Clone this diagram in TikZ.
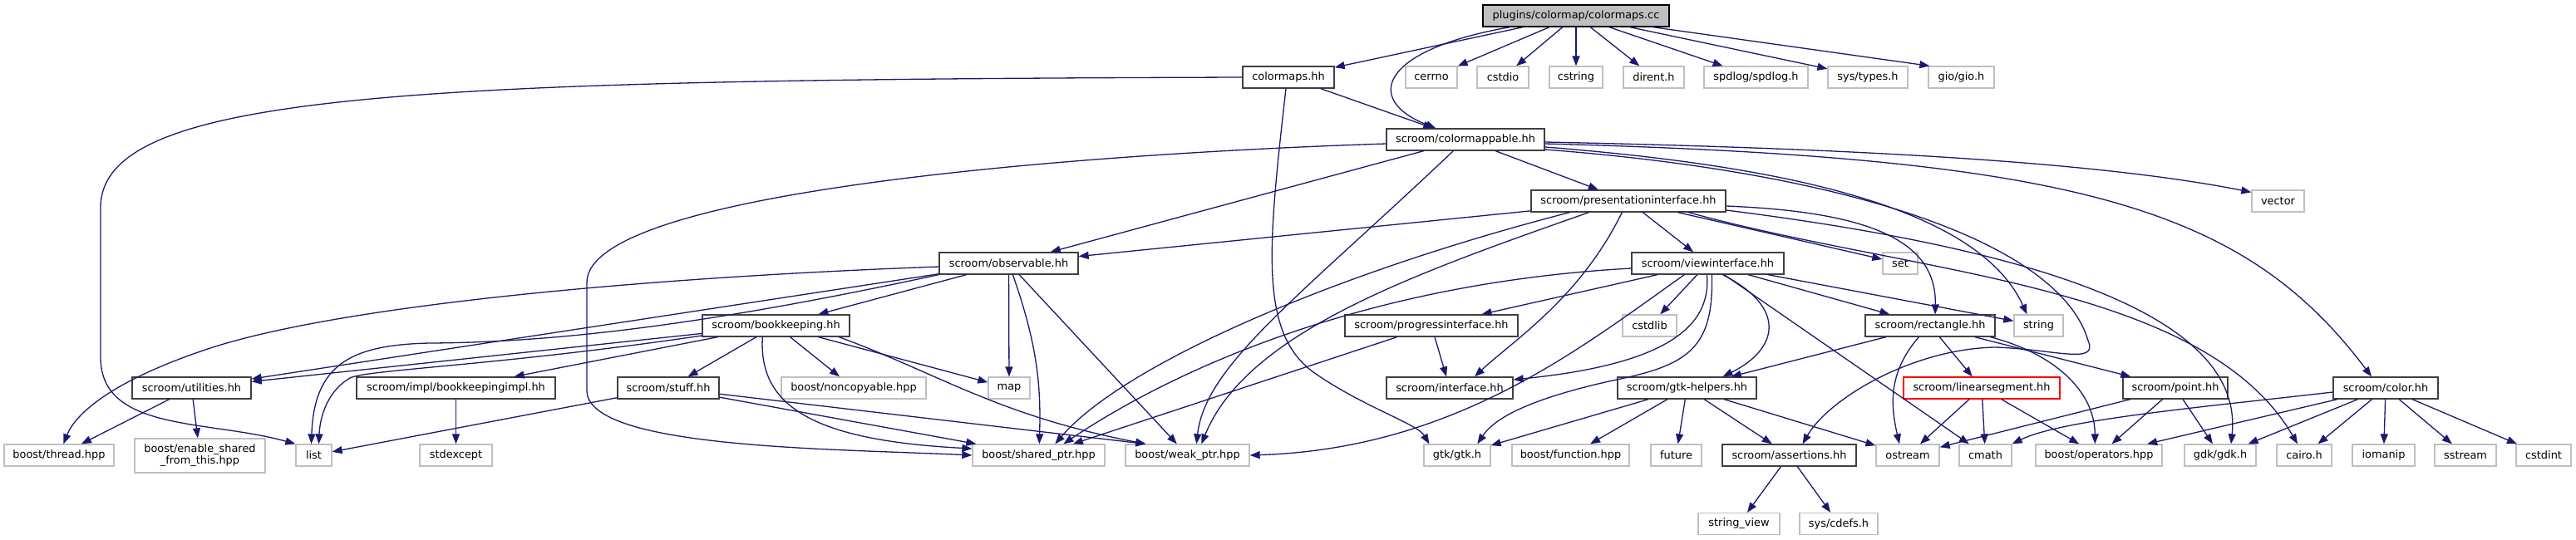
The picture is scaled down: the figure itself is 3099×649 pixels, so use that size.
\documentclass[tikz,border=0pt]{standalone}
\usepackage{fontspec}
\setmainfont{DejaVu Sans}
\usetikzlibrary{arrows.meta}
\definecolor{edgeblue}{HTML}{191970}
\definecolor{greyA}{HTML}{404040}
\definecolor{greyB}{HTML}{BFBFBF}
\begin{document}
\begin{tikzpicture}[x=1pt,y=-1pt,
  base/.style={rectangle, inner sep=0pt, minimum height=26pt, line width=1.3pt, font=\fontsize{12.9}{14}\selectfont, align=center},
  dn/.style={base, draw=greyA, fill=white},
  un/.style={base, draw=greyB, fill=white},
  rootnode/.style={base, draw=black, fill=greyB},
  rednode/.style={base, draw=red, fill=white},
  e/.style={draw=edgeblue, line width=1.3pt, -{Triangle[length=12pt,width=9pt]}, fill=none}
]
\fill[white] (0,0) rectangle (3099,649);
\useasboundingbox (0,0) rectangle (3099,649);

% row 1
\node[rootnode, minimum width=224pt] (root) at (1896,19) {plugins/colormap/colormaps.cc};
% row 2
\node[dn, minimum width=110pt] (cmhh) at (1550,93) {colormaps.hh};
\node[un, minimum width=62pt] (cerrno) at (1722,93) {cerrno};
\node[un, minimum width=62pt] (cstdio) at (1808,93) {cstdio};
\node[un, minimum width=64pt] (cstring) at (1896,93) {cstring};
\node[un, minimum width=73pt] (dirent) at (1989.5,93) {dirent.h};
\node[un, minimum width=125pt] (spdlog) at (2112.5,93) {spdlog/spdlog.h};
\node[un, minimum width=96pt] (systypes) at (2247,93) {sys/types.h};
\node[un, minimum width=79pt] (gio) at (2359.5,93) {gio/gio.h};
% row 3
\node[dn, minimum width=190pt] (cmap) at (1763,168) {scroom/colormappable.hh};
% row 4
\node[dn, minimum width=234pt] (pres) at (1959,242) {scroom/presentationinterface.hh};
\node[un, minimum width=63pt] (vector) at (2740.5,242) {vector};
% row 5
\node[dn, minimum width=167pt] (obs) at (1213.5,317) {scroom/observable.hh};
\node[dn, minimum width=183pt] (view) at (2054.5,317) {scroom/viewinterface.hh};
\node[un, minimum width=42pt] (set) at (2286,317) {set};
% row 6
\node[dn, minimum width=177pt] (bk) at (933.5,392) {scroom/bookkeeping.hh};
\node[dn, minimum width=208pt] (prog) at (1722,392) {scroom/progressinterface.hh};
\node[un, minimum width=65pt] (cstdlib) at (1984.5,392) {cstdlib};
\node[dn, minimum width=156pt] (rect) at (2322,392) {scroom/rectangle.hh};
\node[un, minimum width=59pt] (string) at (2452.5,392) {string};
% row 7
\node[dn, minimum width=143pt] (util) at (230.5,467) {scroom/utilities.hh};
\node[dn, minimum width=239pt] (bkimpl) at (548.5,467) {scroom/impl/bookkeepingimpl.hh};
\node[dn, minimum width=122pt] (stuff) at (804,467) {scroom/stuff.hh};
\node[un, minimum width=174pt] (noncopy) at (1027,467) {boost/noncopyable.hpp};
\node[un, minimum width=50pt] (map) at (1214,467) {map};
\node[dn, minimum width=152pt] (iface) at (1744,467) {scroom/interface.hh};
\node[dn, minimum width=167pt] (gtkhelp) at (2029.5,467) {scroom/gtk-helpers.hh};
\node[rednode, minimum width=188pt] (linseg) at (2384,467) {scroom/linearsegment.hh};
\node[dn, minimum width=126pt] (point) at (2617,467) {scroom/point.hh};
\node[dn, minimum width=126pt] (color) at (2870,467) {scroom/color.hh};
% row 8
\node[un, minimum width=132pt] (thread) at (71,548) {boost/thread.hpp};
\node[un, minimum width=157pt, minimum height=41pt] (enable) at (240.5,548.5) {boost/enable\_shared\\\_from\_this.hpp};
\node[un, minimum width=43pt] (list) at (377.5,548) {list};
\node[un, minimum width=87pt] (stdexcept) at (548.5,548) {stdexcept};
\node[un, minimum width=159pt] (shared) at (1249.5,548) {boost/shared\_ptr.hpp};
\node[un, minimum width=149pt] (weak) at (1428.5,548) {boost/weak\_ptr.hpp};
\node[un, minimum width=80pt] (gtk) at (1753,548) {gtk/gtk.h};
\node[un, minimum width=141pt] (func) at (1889.5,548) {boost/function.hpp};
\node[un, minimum width=61pt] (future) at (2016.5,548) {future};
\node[dn, minimum width=161pt] (assert) at (2152.5,548) {scroom/assertions.hh};
\node[un, minimum width=76pt] (ostream) at (2295,548) {ostream};
\node[un, minimum width=63pt] (cmath) at (2388.5,548) {cmath};
\node[un, minimum width=152pt] (ops) at (2525,548) {boost/operators.hpp};
\node[un, minimum width=86pt] (gdk) at (2671,548) {gdk/gdk.h};
\node[un, minimum width=66pt] (cairo) at (2772,548) {cairo.h};
\node[un, minimum width=75pt] (iomanip) at (2867.5,548) {iomanip};
\node[un, minimum width=74pt] (sstream) at (2966,548) {sstream};
\node[un, minimum width=66pt] (cstdint) at (3060,548) {cstdint};
% row 9
\node[un, minimum width=98pt] (sview) at (2092,630.5) {string\_view};
\node[un, minimum width=94pt] (cdefs) at (2212,630.5) {sys/cdefs.h};

% edges from root
\draw[e] (root) -- (cmhh);
\draw[e] ([xshift=33pt]root.south west) .. controls (1660,60) and (1640,120) .. ([xshift=60pt]cmap.north west);
\draw[e] (root) -- (cerrno);
\draw[e] (root) -- (cstdio);
\draw[e] (root) -- (cstring);
\draw[e] (root) -- (dirent);
\draw[e] (root) -- (spdlog);
\draw[e] (root) -- (systypes);
\draw[e] ([xshift=-20pt]root.south east) -- ([xshift=2pt]gio.north west);
% colormaps.hh
\draw[e] (cmhh) -- (cmap);
\draw[e] (cmhh.west) .. controls (500,96) and (121,110) .. (121,250) -- (121,430) .. controls (121,520) and (250,505) .. (list.north west);
\draw[e] ([xshift=-3pt]cmhh.south) .. controls (1525,300) and (1515,400) .. (1580,448) .. controls (1640,490) and (1705,510) .. ([xshift=7pt]gtk.north west);
% colormappable
\draw[e] (cmap) -- (obs);
\draw[e] (cmap) -- (pres);
\draw[e] ([yshift=-5pt]cmap.west) .. controls (1300,185) and (706,230) .. (706,340) -- (706,470) .. controls (706,540) and (1000,540) .. (shared.west);
\draw[e] ([xshift=81pt]cmap.south west) .. controls (1560,360) and (1450,440) .. ([xshift=86pt]weak.north west);
\draw[e] ([yshift=-3pt]cmap.east) .. controls (2300,180) and (2550,200) .. ([yshift=-3pt]vector.north west);
\draw[e] ([yshift=-5pt]cmap.east) .. controls (2500,190) and (2700,250) .. ([xshift=-17pt]color.north);
\draw[e] ([yshift=-9pt]cmap.east) .. controls (2150,200) and (2380,250) .. ([xshift=-14pt]string.north);
\draw[e] ([yshift=-12pt]cmap.east) .. controls (2250,210) and (2480,300) .. (2512,410) .. controls (2525,440) and (2470,420) .. (2400,418) .. controls (2300,420) and (2200,480) .. ([xshift=16pt]assert.north);
% presentationinterface
\draw[e] (pres) -- (obs);
\draw[e] (pres) -- (view);
\draw[e] ([xshift=47pt]pres.south west) .. controls (1600,330) and (1350,440) .. ([xshift=100pt]shared.north west);
\draw[e] ([xshift=70pt]pres.south west) .. controls (1700,330) and (1500,400) .. ([xshift=92pt]weak.north west);
\draw[e] ([xshift=110pt]pres.south west) .. controls (1900,360) and (1820,410) .. ([xshift=30pt]iface.north);
\draw[e] (pres) -- (set);
\draw[e] ([yshift=-6pt]pres.east) .. controls (2250,255) and (2330,290) .. ([xshift=6pt]rect.north);
\draw[e] ([yshift=-11pt]pres.east) .. controls (2450,300) and (2700,380) .. ([xshift=13pt]gdk.north);
\draw[e] ([xshift=190pt]pres.south west) .. controls (2300,330) and (2650,340) .. ([xshift=-8pt]cairo.north);
% viewinterface
\draw[e] (view) -- (prog);
\draw[e] (view) -- (cstdlib);
\draw[e] ([xshift=91pt]view.south west) .. controls (2060,400) and (1990,440) .. ([yshift=10pt]iface.east);
\draw[e] ([xshift=97pt]view.south west) .. controls (2062,420) and (2030,440) .. (1940,458) .. controls (1850,478) and (1800,500) .. ([xshift=65pt]gtk.north west);
\draw[e] ([xshift=110pt]view.south west) .. controls (2150,370) and (2140,420) .. ([xshift=43pt]gtkhelp.north);
\draw[e] (view) -- (cmath);
\draw[e] (view) -- (rect);
\draw[e] (view) -- (string);
\draw[e] ([yshift=-6pt]view.west) .. controls (1650,340) and (1420,440) .. ([xshift=110pt]shared.north west);
\draw[e] ([xshift=64pt]view.south west) .. controls (1900,420) and (1750,540) .. (weak.east);
% progressinterface
\draw[e] (prog) -- (iface);
\draw[e] (prog) -- (shared);
% observable
\draw[e] (obs) -- (bk);
\draw[e] (obs) -- (util);
\draw[e] (obs.south west) .. controls (900,380) and (700,412) .. (517,413) .. controls (420,415) and (378,440) .. ([xshift=-3pt]list.north);
\draw[e] ([yshift=-4pt]obs.west) .. controls (750,335) and (400,370) .. (250,420) .. controls (130,460) and (90,500) .. ([xshift=72pt]thread.north west);
\draw[e] (obs) -- (map);
\draw[e] ([xshift=89pt]obs.south west) .. controls (1250,420) and (1252,470) .. ([xshift=81pt]shared.north west);
\draw[e] (obs) -- (weak);
% bookkeeping
\draw[e] (bk) -- (util);
\draw[e] ([yshift=-12pt]bk.west) .. controls (600,440) and (440,445) .. (421,455) .. controls (395,470) and (385,500) .. ([xshift=6pt]list.north);
\draw[e] (bk) -- (bkimpl);
\draw[e] (bk) -- (stuff);
\draw[e] (bk) -- (noncopy);
\draw[e] (bk) -- (map);
\draw[e] ([xshift=73pt]bk.south west) .. controls (912,490) and (980,530) .. ([yshift=8pt]shared.west);
\draw[e] ([xshift=165pt]bk.south west) .. controls (1130,450) and (1200,500) .. ([xshift=25pt]weak.north west);
% utilities, impl, stuff
\draw[e] (util) -- (thread);
\draw[e] (util) -- (enable);
\draw[e] (bkimpl) -- (stdexcept);
\draw[e] (stuff) -- (list);
\draw[e] (stuff) -- (shared);
\draw[e] (stuff) -- ([xshift=25pt]weak.north west);
% gtk-helpers
\draw[e] (gtkhelp) -- (gtk);
\draw[e] (gtkhelp) -- (func);
\draw[e] (gtkhelp) -- (future);
\draw[e] (gtkhelp) -- (assert);
\draw[e] (gtkhelp) -- (ostream);
% rectangle
\draw[e] (rect) -- (gtkhelp);
\draw[e] ([xshift=65pt]rect.south west) .. controls (2270,450) and (2275,490) .. ([xshift=-10pt]ostream.north);
\draw[e] (rect) -- (linseg);
\draw[e] (rect) -- (point);
\draw[e] ([xshift=151pt]rect.south west) .. controls (2470,425) and (2520,470) .. ([xshift=72pt]ops.north west);
% linearsegment
\draw[e] (linseg) -- (ostream);
\draw[e] (linseg) -- (cmath);
\draw[e] (linseg) -- (ops);
% point
\draw[e] (point) -- (ostream);
\draw[e] (point) -- (ops);
\draw[e] (point) -- (gdk);
% color
\draw[e] ([yshift=-5pt]color.west) .. controls (2650,490) and (2480,505) .. (cmath.north east);
\draw[e] (color) -- (ops);
\draw[e] (color) -- (gdk);
\draw[e] (color) -- (cairo);
\draw[e] (color) -- (iomanip);
\draw[e] (color) -- (sstream);
\draw[e] (color) -- (cstdint);
% assertions
\draw[e] (assert) -- (sview);
\draw[e] (assert) -- (cdefs);
\end{tikzpicture}
\end{document}
